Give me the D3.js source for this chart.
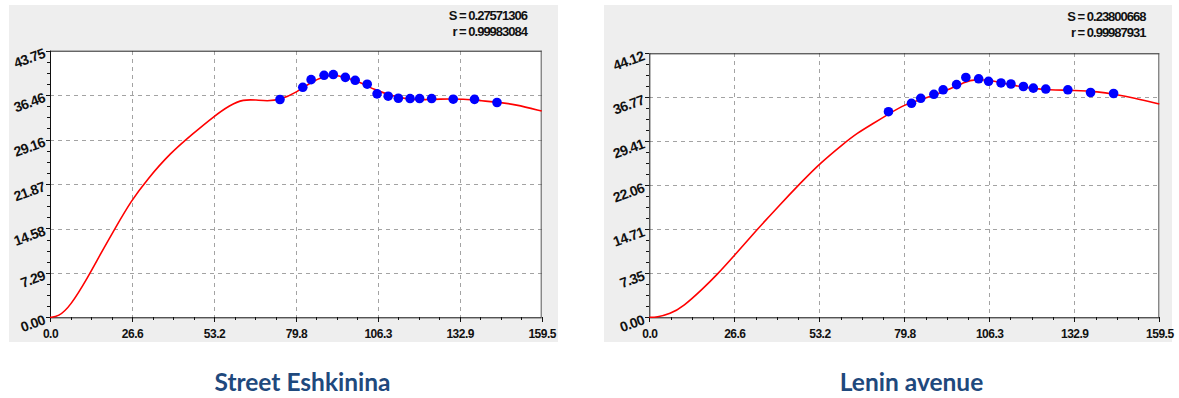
<!DOCTYPE html>
<html>
<head>
<meta charset="utf-8">
<script src="https://cdn.jsdelivr.net/npm/d3@7"></script>
<style>
body{margin:0;background:#fff;}
.panel{fill:#eeeeee;}
.grid line{stroke:#a3a3a3;stroke-dasharray:4,4;stroke-width:1;shape-rendering:crispEdges;}
.axis path{display:none;}
.axis line{stroke:#111;shape-rendering:crispEdges;}
.axis text{font-family:"Liberation Sans",Arial,sans-serif;font-weight:bold;font-size:12px;fill:#111;letter-spacing:-0.5px;}
.y-axis text{font-size:14px;letter-spacing:-0.6px;}
.stat{font-family:"Liberation Sans",Arial,sans-serif;font-weight:bold;font-size:13px;fill:#111;letter-spacing:-1px;}
.title{font-family:Lato,"Open Sans",sans-serif;font-weight:bold;font-size:24.5px;fill:#1f497d;}
.fit{fill:none;stroke:#ff0000;stroke-width:1.6;}
.dot{fill:#0000ff;}
</style>
</head>
<body>
<div id="chart"></div>
<script>
// data
var titles=["Street Eshkinina","Lenin avenue"];
var xTicks=[0,26.6,53.2,79.8,106.3,132.9,159.5];
var eshYTicks=[0,7.29,14.58,21.87,29.16,36.46,43.75];
var leninYTicks=[0,7.35,14.71,22.06,29.41,36.77,44.12];

var eshStats=["S = 0.27571306","r = 0.99983084"];
var leninStats=["S = 0.23800668","r = 0.99987931"];

var eshPointX=[74.6,82.0,84.7,88.9,91.9,95.8,99.0,102.9,106.1,109.7,113.0,116.8,119.9,123.8,130.8,137.7,145.0];
var eshPointY=[35.74,37.74,39.0,39.71,39.84,39.38,38.89,38.25,36.67,36.28,35.95,35.9,35.9,35.9,35.79,35.77,35.25];
var eshCurveX=[0,2.7,6.5,12.4,16.2,21.1,26.5,31.4,38.9,46.5,53.0,58.4,62.7,67.0,70.3,74.6,80.0,84.9,89.2,93.0,96.8,101.1,105.4,108.7,113.0,118.4,121.6,125.9,134.6,140.0,145.4,150.8,159.5];
var eshCurveY=[0,0.1,1.74,6.66,10.22,14.6,19.25,22.53,26.91,30.19,32.92,34.84,35.77,35.66,35.49,35.66,36.92,38.66,39.6,39.76,39.22,38.5,37.3,36.76,36.04,35.66,35.71,35.82,35.82,35.54,35.28,34.95,33.85];

var leninPointX=[74.8,82.0,84.9,89.0,91.9,96.1,99.0,103.0,106.1,110.0,113.1,117.0,120.1,124.0,130.9,138.0,145.2];
var leninPointY=[34.36,35.76,36.6,37.27,38.02,38.89,40.08,39.86,39.44,39.16,38.99,38.57,38.3,38.15,38.02,37.57,37.4];
var leninCurveX=[0,2.3,6.5,10.6,16.9,21.1,26.3,33.6,39.8,48.2,53.4,60.7,64.9,70.1,74.7,80.0,85.2,89.4,94.6,98.8,101.9,106.0,110.2,114.4,119.6,124.8,133.1,140.4,145.6,151.4,159.5];
var leninCurveY=[0,0,0.55,1.77,4.85,7.07,10.13,14.59,18.22,22.95,25.74,29.0,30.75,32.42,33.93,35.6,36.43,37.15,38.27,39.37,39.77,39.66,39.21,38.7,38.27,37.99,37.94,37.7,37.27,36.7,35.65];

FitChart=function(_svg,_opts){
    this.svg=_svg;
    this.opts=_opts;
    this.initVis();
};

FitChart.prototype.initVis=function(){
    var vis=this, o=vis.opts;

    vis.svg.append('rect')
        .attr('class','panel')
        .attr('x',o.panel[0]).attr('y',o.panel[1])
        .attr('width',o.panel[2]).attr('height',o.panel[3]);

    vis.g=vis.svg.append('g')
        .attr('transform','translate('+o.left+','+o.top+')');
    vis.width=o.width;
    vis.height=o.height;

    vis.g.append('rect')
        .attr('width',vis.width).attr('height',vis.height)
        .attr('fill','#fff');

    vis.x=d3.scaleLinear().domain([0,159.5]).range([0,vis.width]);
    vis.y=d3.scaleLinear().domain([0,o.yTicks[o.yTicks.length-1]]).range([vis.height,0]);

    vis.wrangleData();
};

FitChart.prototype.wrangleData=function(){
    var vis=this, o=vis.opts;
    vis.points=o.pointX.map(function(d,i){ return {x:d,y:o.pointY[i]}; });
    vis.curve=o.curveX.map(function(d,i){ return {x:d,y:o.curveY[i]}; });

    // 4 subdivisions between every major tick
    vis.xMinor=[];
    for(var i=0;i<xTicks.length-1;i++){
        for(var k=1;k<4;k++) vis.xMinor.push(xTicks[i]+(xTicks[i+1]-xTicks[i])*k/4);
    }
    vis.yMinor=[];
    for(var j=0;j<o.yTicks.length-1;j++){
        for(var m=1;m<4;m++) vis.yMinor.push(o.yTicks[j]+(o.yTicks[j+1]-o.yTicks[j])*m/4);
    }
    vis.updateVis();
};

FitChart.prototype.updateVis=function(){
    var vis=this, o=vis.opts;

    // grid
    var grid=vis.g.append('g').attr('class','grid');
    grid.selectAll('.gx')
        .data(xTicks.slice(1,-1))
        .enter().append('line')
        .attr('x1',function(d){ return Math.round(vis.x(d))+0.5; })
        .attr('x2',function(d){ return Math.round(vis.x(d))+0.5; })
        .attr('y1',0).attr('y2',vis.height);
    grid.selectAll('.gy')
        .data(o.yTicks.slice(1,-1))
        .enter().append('line')
        .attr('y1',function(d){ return Math.round(vis.y(d))+0.5; })
        .attr('y2',function(d){ return Math.round(vis.y(d))+0.5; })
        .attr('x1',0).attr('x2',vis.width);

    // axes
    vis.g.append('g')
        .attr('class','axis x-axis')
        .attr('transform','translate(0,'+vis.height+')')
        .call(d3.axisBottom(vis.x).tickValues(vis.xMinor).tickSize(3).tickFormat(''));
    var xa=vis.g.append('g')
        .attr('class','axis x-axis')
        .attr('transform','translate(0,'+vis.height+')')
        .call(d3.axisBottom(vis.x).tickValues(xTicks).tickSize(5).tickFormat(d3.format('.1f')));
    xa.selectAll('text').attr('y',21).attr('dy',0);

    vis.g.append('g')
        .attr('class','axis y-axis')
        .call(d3.axisLeft(vis.y).tickValues(vis.yMinor).tickSize(3).tickFormat(''));
    var ya=vis.g.append('g')
        .attr('class','axis y-axis')
        .call(d3.axisLeft(vis.y).tickValues(o.yTicks).tickSize(4).tickFormat(d3.format('.2f')));
    ya.selectAll('text')
        .attr('x',0).attr('y',0).attr('dy',0)
        .attr('text-anchor','end')
        .attr('transform','translate(-4,6) rotate(-20)');

    // frame
    vis.g.append('line').attr('x1',0).attr('x2',vis.width).attr('y1',0.5).attr('y2',0.5).attr('stroke','#222');
    vis.g.append('line').attr('x1',vis.width-0.5).attr('x2',vis.width-0.5).attr('y1',0).attr('y2',vis.height).attr('stroke','#555');
    vis.g.append('line').attr('x1',0.5).attr('x2',0.5).attr('y1',0).attr('y2',vis.height).attr('stroke','#111');
    vis.g.append('line').attr('x1',0).attr('x2',vis.width).attr('y1',vis.height+0.5).attr('y2',vis.height+0.5).attr('stroke','#111');

    // fitted curve and measured points
    var line=d3.line()
        .x(function(d){ return vis.x(d.x); })
        .y(function(d){ return vis.y(d.y); })
        .curve(d3.curveBasis);
    vis.g.append('path')
        .datum(vis.curve)
        .attr('class','fit')
        .attr('d',line);
    vis.g.selectAll('.dot')
        .data(vis.points)
        .enter().append('circle')
        .attr('class','dot')
        .attr('cx',function(d){ return vis.x(d.x); })
        .attr('cy',function(d){ return vis.y(d.y); })
        .attr('r',4.8);

    // statistics
    vis.svg.selectAll('.stat-'+o.id)
        .data(o.stats)
        .enter().append('text')
        .attr('class','stat stat-'+o.id)
        .attr('text-anchor','end')
        .attr('x',o.statX)
        .attr('y',function(d,i){ return o.statY+i*16; })
        .text(function(d){ return d; });

    vis.svg.append('text')
        .attr('class','title')
        .attr('text-anchor','middle')
        .attr('x',o.titleX)
        .attr('y',391)
        .text(o.title);
};

var svg=d3.select('#chart').append('svg')
    .attr('width',1179)
    .attr('height',398);

new FitChart(svg,{
    id:'esh', title:titles[0], stats:eshStats, yTicks:eshYTicks,
    pointX:eshPointX, pointY:eshPointY, curveX:eshCurveX, curveY:eshCurveY,
    panel:[9,5,549,337], left:50, top:50.7, width:491.7, height:266.6,
    statX:527, statY:19.5, titleX:302.5
});
new FitChart(svg,{
    id:'lenin', title:titles[1], stats:leninStats, yTicks:leninYTicks,
    pointX:leninPointX, pointY:leninPointY, curveX:leninCurveX, curveY:leninCurveY,
    panel:[604,5,568,337], left:649.3, top:53.3, width:510, height:264,
    statX:1145.5, statY:21, titleX:911.5
});
</script>
</body>
</html>
